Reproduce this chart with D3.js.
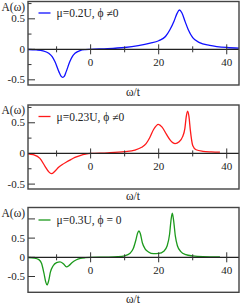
<!DOCTYPE html>
<html>
<head>
<meta charset="utf-8">
<script src="https://cdn.jsdelivr.net/npm/d3@7"></script>
<style>
  body { margin: 0; background: #fff; }
</style>
</head>
<body>
<div id="chart"></div>
<script>
var width = 241;
var height = 305;

// spectral function A(omega) as [omega/t, A]
var blueCurve = [[-18.4,-0.003],[-16,-0.01],[-14,-0.025],[-12.3,-0.066],[-11.3,-0.12],[-10.5,-0.2],
  [-9.3,-0.37],[-8.7,-0.44],[-8.2,-0.46],[-7.7,-0.44],[-7.2,-0.37],[-6.1,-0.2],[-5.3,-0.11],[-4.6,-0.066],
  [-3.1,-0.02],[-1.5,-0.005],[0,0],[5,0.01],[10,0.03],[14,0.06],[17.5,0.1],[20,0.14],[22,0.21],
  [23.3,0.32],[24.5,0.46],[25.4,0.59],[26.1,0.645],[26.8,0.6],[27.8,0.45],[28.7,0.32],[30,0.19],
  [32,0.11],[35,0.065],[40,0.03],[43.6,0.02]];

var redCurve = [[-18.4,-0.005],[-16.9,-0.02],[-14.9,-0.08],[-13.4,-0.21],[-12.3,-0.3],[-11.5,-0.33],
  [-10.5,-0.29],[-9.5,-0.23],[-8.3,-0.18],[-7.1,-0.14],[-5.8,-0.1],[-4.6,-0.065],[-3.1,-0.035],
  [-1.5,-0.012],[0,0],[5,0.01],[10,0.03],[13,0.055],[15,0.1],[16.3,0.16],[17.4,0.26],[18.5,0.39],
  [19.9,0.475],[21,0.43],[22.3,0.31],[23.5,0.21],[24.8,0.16],[26,0.19],[27,0.27],[27.7,0.41],
  [28.1,0.6],[28.5,0.69],[28.9,0.6],[29.3,0.38],[30,0.13],[31,0.06],[33,0.035],[35.5,0.025],[38,0.02]];

var greenCurve = [[-18.4,-0.005],[-16.5,-0.02],[-15.2,-0.06],[-14.4,-0.16],[-13.7,-0.42],[-13.2,-0.64],
  [-12.8,-0.72],[-12.3,-0.6],[-11.8,-0.38],[-11,-0.22],[-10,-0.14],[-9,-0.12],[-8,-0.17],[-7.1,-0.25],
  [-6.3,-0.21],[-5.5,-0.14],[-4.3,-0.07],[-3,-0.03],[-1.5,-0.01],[0,0],[5,0.005],[8,0.015],[10,0.04],
  [11.5,0.1],[12.5,0.22],[13.3,0.45],[13.8,0.63],[14.2,0.685],[14.6,0.62],[15.2,0.38],[16,0.22],
  [17,0.14],[18.5,0.095],[20,0.1],[21.5,0.16],[22.5,0.3],[23.2,0.6],[23.6,0.95],[24,1.15],[24.4,0.95],
  [24.9,0.55],[25.5,0.3],[26.5,0.15],[28,0.07],[30,0.035],[33,0.015],[38,0.008]];

var legendLabels = ["\u03bc=0.2U, \u03d5 \u22600", "\u03bc=0.23U, \u03d5 \u22600", "\u03bc=0.3U, \u03d5 = 0"];
var xMajor = [0, 20, 40];
var xMinor = [-10, 10, 30];
var yLabelTicks = [-0.5, 0, 0.5];

var panels = [
  { data: blueCurve,  color: "#1010ff", top: 1.5, bottom: 85,   yDomain: [-0.585, 0.784], yMajor: [-0.5, 0, 0.5], yMinor: [-0.25, 0.25, 0.75] },
  { data: redCurve,   color: "#ff1a1a", top: 105, bottom: 189,  yDomain: [-0.58, 0.79],   yMajor: [-0.5, 0, 0.5], yMinor: [-0.25, 0.25, 0.75] },
  { data: greenCurve, color: "#1c9a1c", top: 207.5, bottom: 292.3, yDomain: [-0.911, 1.297], yMajor: [-0.5, 0, 0.5, 1], yMinor: [] }
];

var left = 28, right = 239;
var serif = "'Liberation Serif', 'Times New Roman', Times, 'DejaVu Serif', serif";

var svg = d3.select("#chart")
  .append("svg")
  .attr("width", width)
  .attr("height", height)
  .attr("font-family", serif)
  .style("font-family", serif);

var x = d3.scaleLinear().domain([-18.4, 43.6]).range([left, right]);

panels.forEach(function(p, i) {
  var y = d3.scaleLinear().domain(p.yDomain).range([p.bottom, p.top]);
  var g = svg.append("g");

  g.append("clipPath").attr("id", "clip" + i)
    .append("rect")
    .attr("x", left).attr("y", p.top)
    .attr("width", right - left).attr("height", p.bottom - p.top);

  // y ticks drawn inward from the left edge
  g.selectAll(".ymaj").data(p.yMajor).enter().append("line")
    .attr("x1", left).attr("x2", left + 7)
    .attr("y1", d => y(d)).attr("y2", d => y(d))
    .attr("stroke", "#333").attr("stroke-width", 1);
  g.selectAll(".ymin").data(p.yMinor).enter().append("line")
    .attr("x1", left).attr("x2", left + 3.5)
    .attr("y1", d => y(d)).attr("y2", d => y(d))
    .attr("stroke", "#333").attr("stroke-width", 1);

  g.selectAll(".ylab").data(yLabelTicks).enter().append("text")
    .attr("x", left - 3)
    .attr("y", d => y(d) + 3.5)
    .attr("text-anchor", "end")
    .attr("font-size", 11)
    .attr("fill", "#222")
    .text(d => d === 0 ? "0" : d);

  g.append("text")
    .attr("x", 1.5).attr("y", p.top + 9)
    .attr("font-size", 11.5)
    .attr("fill", "#222")
    .text("A(\u03c9)");

  // curve
  var line = d3.line()
    .x(d => x(d[0]))
    .y(d => y(d[1]))
    .curve(d3.curveMonotoneX);

  g.append("path")
    .datum(p.data)
    .attr("clip-path", "url(#clip" + i + ")")
    .attr("fill", "none")
    .attr("stroke", p.color)
    .attr("stroke-width", 1.3)
    .attr("d", line);

  // zero line with ticks crossing it
  var y0 = y(0);
  g.append("line")
    .attr("x1", left).attr("x2", right)
    .attr("y1", y0).attr("y2", y0)
    .attr("stroke", "#222").attr("stroke-width", 1.3);
  g.selectAll(".xmaj").data(xMajor).enter().append("line")
    .attr("x1", d => x(d)).attr("x2", d => x(d))
    .attr("y1", y0 - 5).attr("y2", y0 + 5)
    .attr("stroke", "#333").attr("stroke-width", 1);
  g.selectAll(".xmin").data(xMinor).enter().append("line")
    .attr("x1", d => x(d)).attr("x2", d => x(d))
    .attr("y1", y0 - 3).attr("y2", y0 + 3)
    .attr("stroke", "#333").attr("stroke-width", 1);
  g.selectAll(".xlab").data(xMajor).enter().append("text")
    .attr("x", d => x(d))
    .attr("y", y0 + 17)
    .attr("text-anchor", "middle")
    .attr("font-size", 11)
    .attr("fill", "#222")
    .text(d => d);

  // legend
  var ly = p.top + (i === 2 ? 12.5 : 11.5);
  g.append("line")
    .attr("x1", 38.5).attr("x2", 50.5)
    .attr("y1", ly).attr("y2", ly)
    .attr("stroke", p.color).attr("stroke-width", 1.3);
  g.append("text")
    .attr("x", 56.5).attr("y", ly + 4)
    .attr("font-size", 11.5)
    .attr("fill", "#222")
    .text(legendLabels[i]);

  // frame
  g.append("rect")
    .attr("x", left).attr("y", p.top)
    .attr("width", right - left).attr("height", p.bottom - p.top)
    .attr("fill", "none")
    .attr("stroke", "#444").attr("stroke-width", 1.4);

  g.append("text")
    .attr("x", 133).attr("y", p.bottom + 10.5)
    .attr("text-anchor", "middle")
    .attr("font-size", 11.5)
    .attr("fill", "#222")
    .text("\u03c9/t");
});
</script>
</body>
</html>
